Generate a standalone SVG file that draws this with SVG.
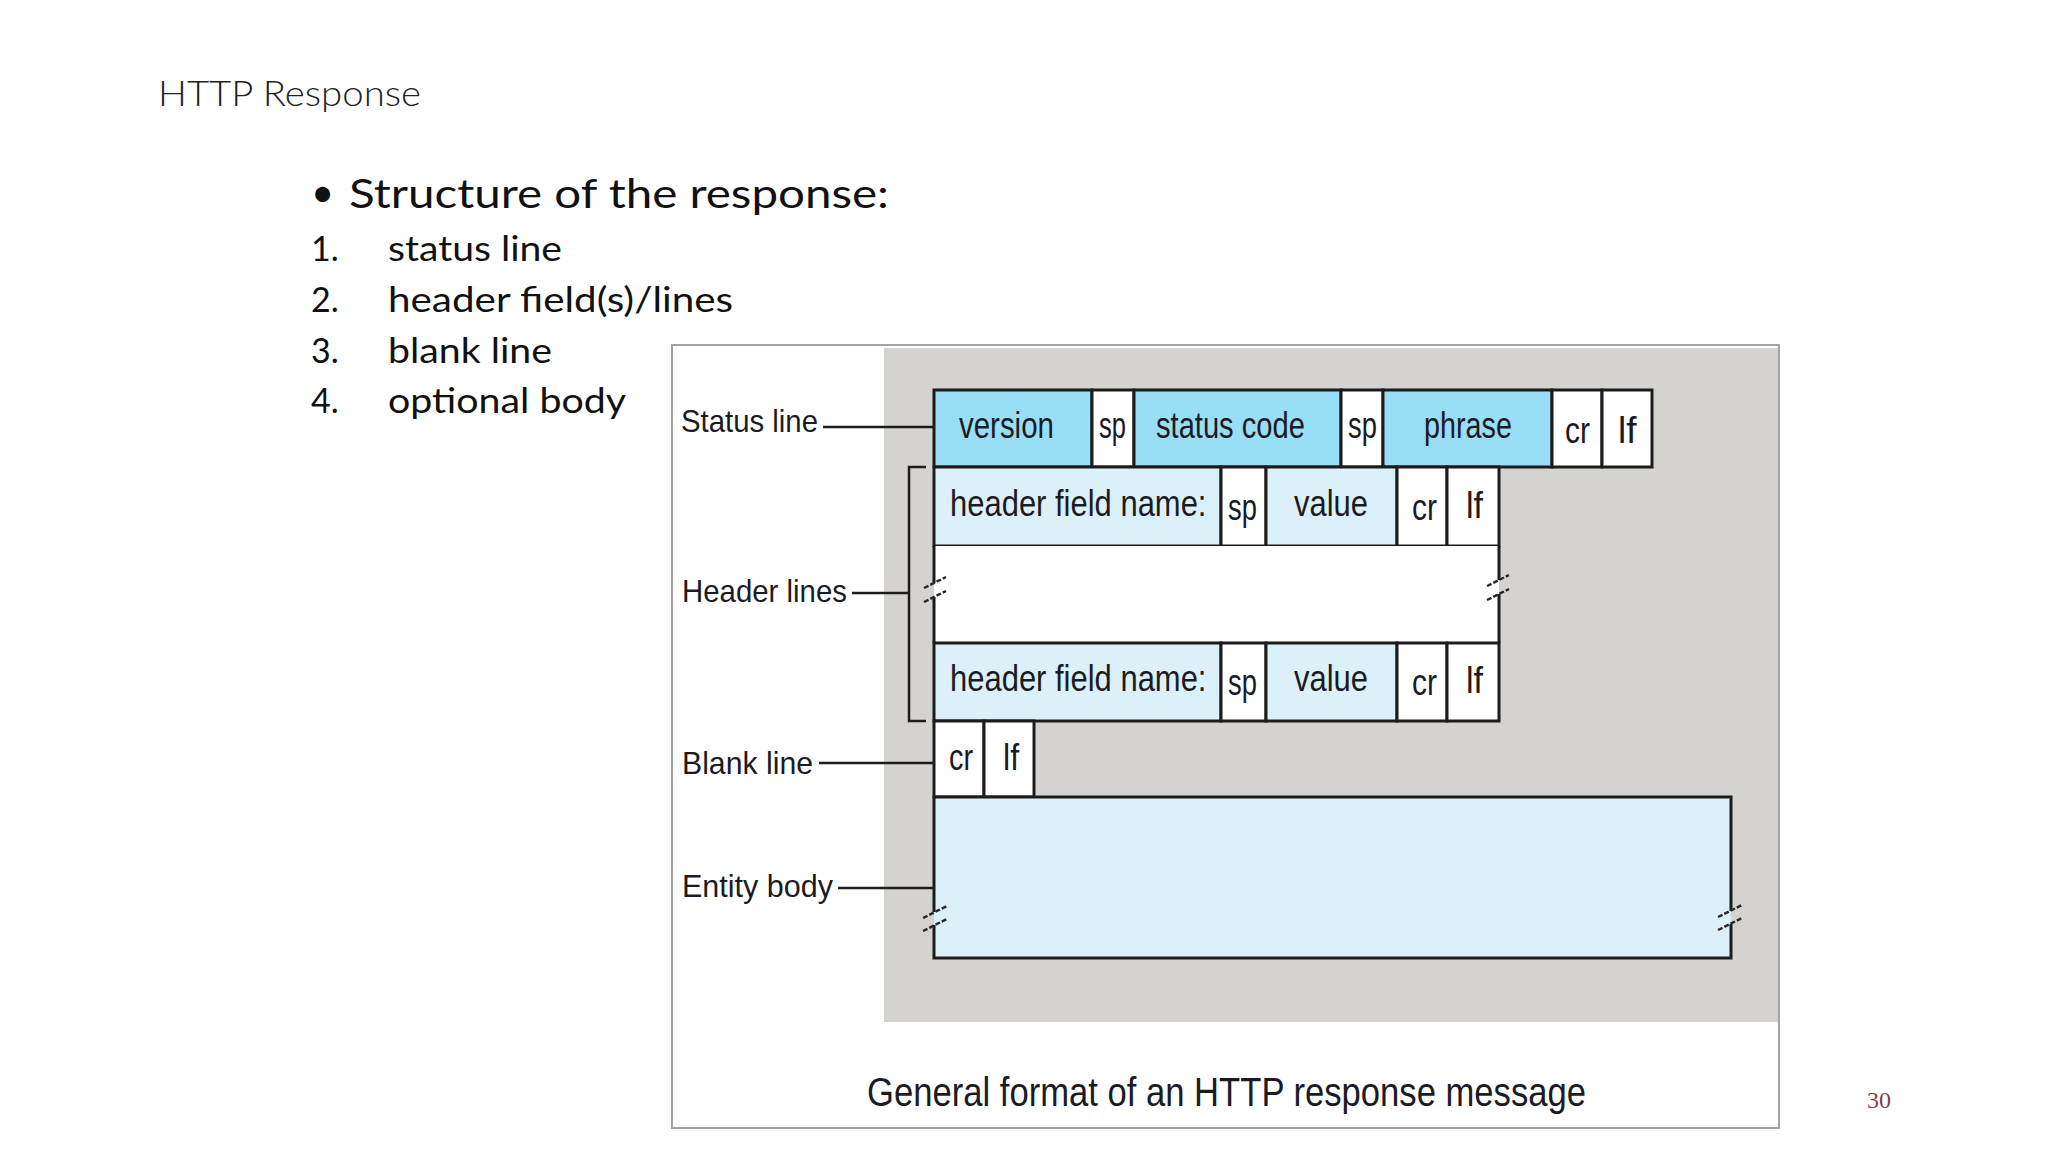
<svg xmlns="http://www.w3.org/2000/svg" width="2048" height="1152" viewBox="0 0 2048 1152">
  <style>
    .bg { fill: #ffffff; }
    .frame { fill: none; stroke: #a3a3a3; stroke-width: 2; }
    .panel { fill: #d5d3d0; }
    .c { stroke: #1c1c1c; stroke-width: 3; }
    .blue { fill: #98def6; }
    .white { fill: #ffffff; }
    .light { fill: #dcf0fa; }
    .edge { fill: none; stroke: #1c1c1c; stroke-width: 3; }
    .brk { fill: none; stroke: #2a2a2a; stroke-width: 2.5; stroke-dasharray: 5 2; }
    .conn { fill: none; stroke: #1c1c1c; stroke-width: 2.5; }
    .t { font-family: "Liberation Sans", Arial, sans-serif; font-size: 37px; fill: #1b1b24; }
    .lbl { font-family: "Liberation Sans", Arial, sans-serif; font-size: 32px; fill: #1b1b24; }
    .cap { font-family: "Liberation Sans", Arial, sans-serif; font-size: 40px; fill: #1b1b24; }
    .slide { font-family: Lato, "Open Sans", "Liberation Sans", sans-serif; fill: #111111; }
    .title { font-family: Lato, "Open Sans", "Liberation Sans", sans-serif; font-weight: 300; font-size: 35px; fill: #222222; }
    .pg { font-family: "Liberation Serif", "Times New Roman", serif; font-size: 24px; fill: #8c3b4e; }
  </style>

  <rect class="bg" x="0" y="0" width="2048" height="1152"/>

  <!-- slide text -->
  <g id="slide-title">
    <text class="title" x="158" y="106" textLength="263" lengthAdjust="spacingAndGlyphs">HTTP Response</text>
  </g>
  <g id="slide-list">
    <text class="slide" x="311" y="207" font-size="40">•</text>
    <text class="slide" x="349" y="208" font-size="41" textLength="540" lengthAdjust="spacingAndGlyphs">Structure of the response:</text>
    <text class="slide" x="311" y="261" font-size="34">1.</text>
    <text class="slide" x="388" y="261" font-size="34" textLength="174" lengthAdjust="spacingAndGlyphs">status line</text>
    <text class="slide" x="311" y="312" font-size="34">2.</text>
    <text class="slide" x="388" y="312" font-size="34" textLength="345" lengthAdjust="spacingAndGlyphs">header field(s)/lines</text>
    <text class="slide" x="311" y="363" font-size="34">3.</text>
    <text class="slide" x="388" y="363" font-size="34" textLength="164" lengthAdjust="spacingAndGlyphs">blank line</text>
    <text class="slide" x="311" y="413" font-size="34">4.</text>
    <text class="slide" x="388" y="413" font-size="34" textLength="238" lengthAdjust="spacingAndGlyphs">optional body</text>
  </g>

  <!-- figure frame -->
  <g id="figure-frame">
    <rect class="white" x="672" y="345" width="1107" height="783"/>
    <rect class="panel" x="884" y="348" width="895" height="674"/>
    <rect class="frame" x="672" y="345" width="1107" height="783"/>
  </g>

  <!-- status line -->
  <g id="status-line">
    <rect class="c blue" x="934" y="390" width="158" height="77"/>
    <rect class="c white" x="1092" y="390" width="42" height="77"/>
    <rect class="c blue" x="1134" y="390" width="207" height="77"/>
    <rect class="c white" x="1341" y="390" width="42" height="77"/>
    <rect class="c blue" x="1383" y="390" width="169" height="77"/>
    <rect class="c white" x="1552" y="390" width="50" height="77"/>
    <rect class="c white" x="1602" y="390" width="50" height="77"/>
    <text class="t" transform="translate(959,438) scale(0.796,1)">version</text>
    <text class="t" transform="translate(1099,438) scale(0.69,1)">sp</text>
    <text class="t" transform="translate(1156,438) scale(0.787,1)">status code</text>
    <text class="t" transform="translate(1348,438) scale(0.74,1)">sp</text>
    <text class="t" transform="translate(1424,438) scale(0.778,1)">phrase</text>
    <text class="t" transform="translate(1565,443) scale(0.81,1)">cr</text>
    <text class="t" transform="translate(1618,443) scale(1,1)">lf</text>
  </g>

  <!-- header line 1 -->
  <g id="header-line-1">
    <rect class="c light" x="934" y="467" width="287" height="79"/>
    <rect class="c white" x="1221" y="467" width="45" height="79"/>
    <rect class="c light" x="1266" y="467" width="131" height="79"/>
    <rect class="c white" x="1397" y="467" width="50" height="79"/>
    <rect class="c white" x="1447" y="467" width="52" height="79"/>
    <text class="t" transform="translate(950,516) scale(0.837,1)">header field name:</text>
    <text class="t" transform="translate(1228,520) scale(0.74,1)">sp</text>
    <text class="t" transform="translate(1294,516) scale(0.837,1)">value</text>
    <text class="t" transform="translate(1412,520) scale(0.81,1)">cr</text>
    <text class="t" transform="translate(1466,518) scale(0.92,1)">lf</text>
  </g>

  <!-- omitted header lines (break) -->
  <g id="header-gap">
    <rect class="white" x="934" y="546" width="565" height="97"/>
    <path class="edge" d="M934 546 V583 M934 597 V643 M1499 546 V580 M1499 594 V643"/>
    <path class="brk" d="M924 588 L946 577 M924 602 L946 591 M1487 586 L1509 575 M1487 600 L1509 589"/>
  </g>

  <!-- header line 2 -->
  <g id="header-line-2">
    <rect class="c light" x="934" y="643" width="287" height="78"/>
    <rect class="c white" x="1221" y="643" width="45" height="78"/>
    <rect class="c light" x="1266" y="643" width="131" height="78"/>
    <rect class="c white" x="1397" y="643" width="50" height="78"/>
    <rect class="c white" x="1447" y="643" width="52" height="78"/>
    <text class="t" transform="translate(950,691) scale(0.837,1)">header field name:</text>
    <text class="t" transform="translate(1228,695) scale(0.74,1)">sp</text>
    <text class="t" transform="translate(1294,691) scale(0.837,1)">value</text>
    <text class="t" transform="translate(1412,695) scale(0.81,1)">cr</text>
    <text class="t" transform="translate(1466,693) scale(0.92,1)">lf</text>
  </g>

  <!-- blank line -->
  <g id="blank-line">
    <rect class="c white" x="934" y="721" width="50" height="76"/>
    <rect class="c white" x="984" y="721" width="50" height="76"/>
    <text class="t" transform="translate(949,770) scale(0.78,1)">cr</text>
    <text class="t" transform="translate(1003,770) scale(0.87,1)">lf</text>
  </g>

  <!-- entity body -->
  <g id="entity-body">
    <rect class="light" x="934" y="797" width="797" height="161"/>
    <path class="edge" d="M934 912 V797 H1731 V911 M1731 924 V958 H934 V925"/>
    <path class="brk" d="M923 918 L947 906 M923 931 L947 919 M1718 917 L1742 905 M1718 930 L1742 918"/>
  </g>

  <!-- labels -->
  <g id="labels">
    <text class="lbl" x="681" y="432" textLength="137" lengthAdjust="spacingAndGlyphs">Status line</text>
    <text class="lbl" x="682" y="602" textLength="165" lengthAdjust="spacingAndGlyphs">Header lines</text>
    <text class="lbl" x="682" y="774" textLength="131" lengthAdjust="spacingAndGlyphs">Blank line</text>
    <text class="lbl" x="682" y="897" textLength="151" lengthAdjust="spacingAndGlyphs">Entity body</text>
  </g>

  <!-- connectors -->
  <g id="connectors">
    <path class="conn" d="M823 427 H934"/>
    <path class="conn" d="M852 593 H909"/>
    <path class="conn" d="M926 467 H909 V721 H926"/>
    <path class="conn" d="M819 763 H934"/>
    <path class="conn" d="M838 888 H934"/>
  </g>

  <g id="caption">
    <text class="cap" x="867" y="1106" textLength="719" lengthAdjust="spacingAndGlyphs">General format of an HTTP response message</text>
  </g>

  <g id="page-number">
    <text class="pg" x="1867" y="1108">30</text>
  </g>
</svg>
